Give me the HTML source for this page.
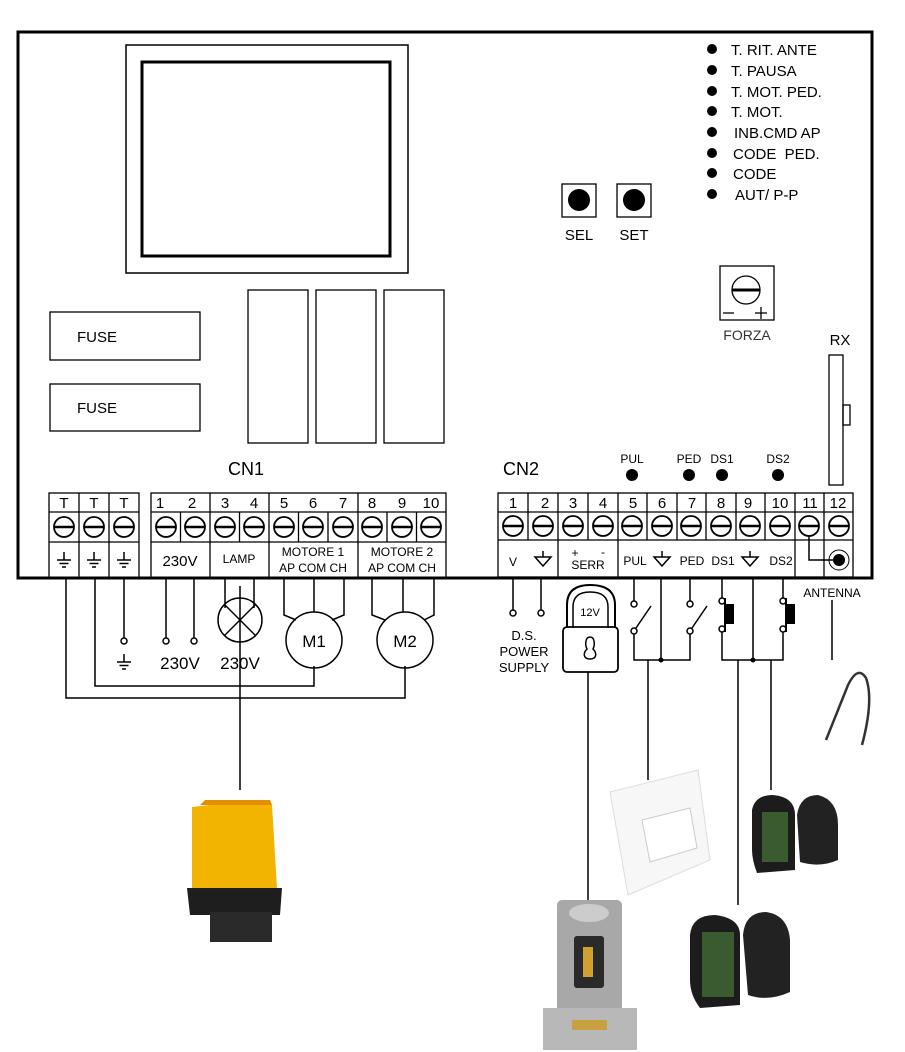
<!DOCTYPE html>
<html><head><meta charset="utf-8"><style>
html,body{margin:0;padding:0;background:#fff;}
svg{display:block;font-family:"Liberation Sans",sans-serif;}
</style></head><body>
<svg width="905" height="1052" viewBox="0 0 905 1052" xmlns="http://www.w3.org/2000/svg">
<defs>
<g id="scr"><circle r="10" fill="#fff" stroke="#000" stroke-width="1.8"/><line x1="-10" y1="0" x2="10" y2="0" stroke="#000" stroke-width="2.5"/></g>
<g id="gnd" stroke="#000" stroke-width="1.5"><line x1="0" y1="-8" x2="0" y2="0"/><line x1="-7" y1="0" x2="7" y2="0"/><line x1="-4.5" y1="3.5" x2="4.5" y2="3.5"/><line x1="-2" y1="7" x2="2" y2="7"/></g>
<g id="tri" fill="none" stroke="#000" stroke-width="1.5"><line x1="0" y1="-9" x2="0" y2="-3"/><path d="M-8,-3 H8 L0,6 Z"/></g>
</defs>
<g fill="none" stroke="#000">
<rect x="18" y="32" width="854" height="546" stroke-width="3"/>
<rect x="126" y="45" width="282" height="228" stroke-width="1.5"/>
<rect x="142" y="62" width="248" height="194" stroke-width="3"/>
<rect x="50" y="312" width="150" height="48" stroke-width="1.3"/>
<rect x="50" y="384" width="150" height="47" stroke-width="1.3"/>
<rect x="248" y="290" width="60" height="153" stroke-width="1.3"/>
<rect x="316" y="290" width="60" height="153" stroke-width="1.3"/>
<rect x="384" y="290" width="60" height="153" stroke-width="1.3"/>
<rect x="562" y="184" width="34" height="33" stroke-width="1.3"/>
<rect x="617" y="184" width="34" height="33" stroke-width="1.3"/>
<rect x="720" y="266" width="54" height="54" stroke-width="1.3"/>
<circle cx="746" cy="290" r="14" stroke-width="1.3"/>
<rect x="829" y="355" width="14" height="130" stroke-width="1.3"/>
<rect x="843" y="405" width="7" height="20" stroke-width="1.3"/>
</g>
<line x1="732" y1="290" x2="760" y2="290" stroke="#000" stroke-width="3"/>
<g stroke="#000" stroke-width="1.3"><line x1="723" y1="313" x2="734" y2="313"/><line x1="755" y1="313" x2="767" y2="313"/><line x1="761" y1="307" x2="761" y2="319"/></g>
<circle cx="579" cy="200" r="11"/><circle cx="634" cy="200" r="11"/>
<g font-size="15" fill="#000"><text x="579" y="240" text-anchor="middle">SEL</text><text x="634" y="240" text-anchor="middle">SET</text>
<text x="747" y="340" text-anchor="middle" font-size="14" fill="#333">FORZA</text>
<text x="840" y="345" text-anchor="middle">RX</text>
<text x="97" y="342" text-anchor="middle">FUSE</text><text x="97" y="413" text-anchor="middle">FUSE</text>
<text x="228" y="475" font-size="18">CN1</text><text x="503" y="475" font-size="18">CN2</text></g>
<g fill="#000">
<circle cx="712" cy="49" r="5"/><circle cx="712" cy="70" r="5"/><circle cx="712" cy="91" r="5"/><circle cx="712" cy="111" r="5"/><circle cx="712" cy="132" r="5"/><circle cx="712" cy="153" r="5"/><circle cx="712" cy="173" r="5"/><circle cx="712" cy="194" r="5"/>
</g>
<g font-size="15" fill="#000">
<text x="731" y="55">T. RIT. ANTE</text><text x="731" y="76">T. PAUSA</text><text x="731" y="97">T. MOT. PED.</text><text x="731" y="117">T. MOT.</text><text x="734" y="138">INB.CMD AP</text><text x="733" y="159">CODE&#160; PED.</text><text x="733" y="179">CODE</text><text x="735" y="200">AUT/ P-P</text>
</g>
<!-- CN1 blocks -->
<g fill="none" stroke="#000" stroke-width="1.3">
<rect x="49" y="493" width="90" height="85"/><line x1="49" y1="512" x2="139" y2="512"/><line x1="49" y1="542" x2="139" y2="542"/>
<line x1="79" y1="493" x2="79" y2="578"/><line x1="109" y1="493" x2="109" y2="578"/>
<rect x="151" y="493" width="295" height="85"/><line x1="151" y1="512" x2="446" y2="512"/><line x1="151" y1="542" x2="446" y2="542"/>
<line x1="180.5" y1="512" x2="180.5" y2="542"/><line x1="210" y1="493" x2="210" y2="578"/><line x1="239.5" y1="512" x2="239.5" y2="542"/><line x1="269" y1="493" x2="269" y2="578"/><line x1="298.5" y1="512" x2="298.5" y2="542"/><line x1="328" y1="512" x2="328" y2="542"/><line x1="358" y1="493" x2="358" y2="578"/><line x1="387" y1="512" x2="387" y2="542"/><line x1="416.5" y1="512" x2="416.5" y2="542"/>
</g>
<g font-size="15" fill="#000" text-anchor="middle">
<text x="64" y="508">T</text><text x="94" y="508">T</text><text x="124" y="508">T</text>
<text x="160" y="508">1</text><text x="192" y="508">2</text><text x="225" y="508">3</text><text x="254" y="508">4</text><text x="284" y="508">5</text><text x="313" y="508">6</text><text x="343" y="508">7</text><text x="372" y="508">8</text><text x="402" y="508">9</text><text x="431" y="508">10</text>
<text x="180" y="566">230V</text><text x="239" y="563" font-size="12">LAMP</text>
<text x="313" y="556" font-size="12">MOTORE 1</text><text x="313" y="572" font-size="12">AP COM CH</text>
<text x="402" y="556" font-size="12">MOTORE 2</text><text x="402" y="572" font-size="12">AP COM CH</text>
</g>
<g>
<use href="#scr" x="64" y="527"/><use href="#scr" x="94" y="527"/><use href="#scr" x="124" y="527"/>
<use href="#scr" x="166" y="527"/><use href="#scr" x="195" y="527"/><use href="#scr" x="225" y="527"/><use href="#scr" x="254" y="527"/><use href="#scr" x="284" y="527"/><use href="#scr" x="313" y="527"/><use href="#scr" x="343" y="527"/><use href="#scr" x="372" y="527"/><use href="#scr" x="402" y="527"/><use href="#scr" x="431" y="527"/>
<use href="#gnd" x="64" y="560"/><use href="#gnd" x="94" y="560"/><use href="#gnd" x="124" y="560"/>
</g>
<!-- CN1 wiring -->
<g fill="none" stroke="#000" stroke-width="1.5">
<polyline points="66,578 66,698 405,698 405,666"/>
<polyline points="95,578 95,686 314,686 314,666"/>
<line x1="124" y1="578" x2="124" y2="638"/><circle cx="124" cy="641" r="3"/>
<line x1="166" y1="578" x2="166" y2="638"/><circle cx="166" cy="641" r="3"/>
<line x1="194" y1="578" x2="194" y2="638"/><circle cx="194" cy="641" r="3"/>
<line x1="225" y1="578" x2="225" y2="608"/><line x1="254" y1="578" x2="254" y2="608"/>
<circle cx="240" cy="620" r="22"/><line x1="224" y1="604" x2="256" y2="636"/><line x1="256" y1="604" x2="224" y2="636"/>
<line x1="240" y1="586" x2="240" y2="790"/>
<circle cx="314" cy="640" r="28"/><polyline points="284,578 284,615 296,620"/><line x1="314" y1="578" x2="314" y2="612"/><polyline points="344,578 344,615 332,620"/>
<circle cx="405" cy="640" r="28"/><polyline points="372,578 372,615 385,620"/><line x1="403" y1="578" x2="403" y2="612"/><polyline points="434,578 434,615 424,620"/>
</g>
<use href="#gnd" x="124" y="662"/>
<g font-size="17" fill="#000" text-anchor="middle"><text x="180" y="669">230V</text><text x="240" y="669">230V</text><text x="314" y="647">M1</text><text x="405" y="647">M2</text></g>
<!-- CN2 block -->
<g fill="none" stroke="#000" stroke-width="1.3">
<rect x="498" y="493" width="355" height="84"/><line x1="498" y1="512" x2="853" y2="512"/><line x1="498" y1="540" x2="853" y2="540"/>
<line x1="528" y1="493" x2="528" y2="540"/><line x1="558" y1="493" x2="558" y2="577"/><line x1="588" y1="493" x2="588" y2="540"/><line x1="618" y1="493" x2="618" y2="577"/><line x1="647" y1="493" x2="647" y2="540"/><line x1="677" y1="493" x2="677" y2="540"/><line x1="706" y1="493" x2="706" y2="540"/><line x1="736" y1="493" x2="736" y2="540"/><line x1="765" y1="493" x2="765" y2="540"/><line x1="795" y1="493" x2="795" y2="577"/><line x1="824" y1="493" x2="824" y2="577"/>
</g>
<g font-size="15" fill="#000" text-anchor="middle">
<text x="513" y="508">1</text><text x="545" y="508">2</text><text x="573" y="508">3</text><text x="603" y="508">4</text><text x="633" y="508">5</text><text x="662" y="508">6</text><text x="692" y="508">7</text><text x="721" y="508">8</text><text x="748" y="508">9</text><text x="780" y="508">10</text><text x="810" y="508">11</text><text x="838" y="508">12</text>
<text x="513" y="566" font-size="12">V</text><text x="588" y="569" font-size="12">SERR</text><text x="575" y="557" font-size="12">+</text><text x="603" y="556" font-size="12">-</text>
<text x="635" y="565" font-size="12">PUL</text><text x="692" y="565" font-size="12">PED</text><text x="723" y="565" font-size="12">DS1</text><text x="781" y="565" font-size="12">DS2</text>
<text x="632" y="463" font-size="12">PUL</text><text x="689" y="463" font-size="12">PED</text><text x="722" y="463" font-size="12">DS1</text><text x="778" y="463" font-size="12">DS2</text>
<text x="832" y="597" font-size="12">ANTENNA</text>
<text x="524" y="640" font-size="13">D.S.</text><text x="524" y="656" font-size="13">POWER</text><text x="524" y="672" font-size="13">SUPPLY</text>
</g>
<g><use href="#scr" x="513" y="526"/><use href="#scr" x="543" y="526"/><use href="#scr" x="573" y="526"/><use href="#scr" x="603" y="526"/><use href="#scr" x="632" y="526"/><use href="#scr" x="662" y="526"/><use href="#scr" x="691" y="526"/><use href="#scr" x="721" y="526"/><use href="#scr" x="750" y="526"/><use href="#scr" x="780" y="526"/><use href="#scr" x="809" y="526"/><use href="#scr" x="839" y="526"/>
<use href="#tri" x="543" y="560"/><use href="#tri" x="662" y="560"/><use href="#tri" x="750" y="560"/></g>
<g fill="#000"><circle cx="632" cy="475" r="6"/><circle cx="689" cy="475" r="6"/><circle cx="722" cy="475" r="6"/><circle cx="778" cy="475" r="6"/>
<circle cx="839" cy="560" r="6"/><circle cx="661" cy="660" r="2.5"/><circle cx="753" cy="660" r="2.5"/></g>
<g fill="none" stroke="#000" stroke-width="1.5">
<polyline points="809,536 809,560 833,560"/><circle cx="839" cy="560" r="10" stroke-width="1"/>
<line x1="513" y1="577" x2="513" y2="610"/><circle cx="513" cy="613" r="3"/>
<line x1="541" y1="577" x2="541" y2="610"/><circle cx="541" cy="613" r="3"/>
<path d="M567,628 V605 Q567,585 590,585 Q615,585 615,605 V628" stroke-width="2"/>
<path d="M573,628 V607 Q573,592 590,592 Q608,592 608,607 V628" stroke-width="1.5"/>
<rect x="563" y="627" width="55" height="45" rx="4" stroke-width="1.8"/>
<path d="M590,637 c-5,0 -5,8 -3,12 c-4,4 -4,10 3,10 c7,0 7,-6 3,-10 c2,-4 2,-12 -3,-12 z"/>
<line x1="588" y1="672" x2="588" y2="900"/>
<line x1="634" y1="577" x2="634" y2="601"/><circle cx="634" cy="604" r="3"/><line x1="636" y1="628" x2="651" y2="606"/><circle cx="634" cy="631" r="3"/><polyline points="634,634 634,660 690,660 690,634"/>
<line x1="690" y1="577" x2="690" y2="601"/><circle cx="690" cy="604" r="3"/><line x1="692" y1="628" x2="707" y2="606"/><circle cx="690" cy="631" r="3"/>
<line x1="661" y1="577" x2="661" y2="660"/><line x1="648" y1="660" x2="648" y2="780"/>
<line x1="722" y1="577" x2="722" y2="598"/><circle cx="722" cy="601" r="3"/><circle cx="722" cy="629" r="3"/><line x1="725" y1="598" x2="725" y2="632" stroke-width="2"/><polyline points="722,632 722,660 783,660 783,632"/>
<line x1="783" y1="577" x2="783" y2="598"/><circle cx="783" cy="601" r="3"/><circle cx="783" cy="629" r="3"/><line x1="786" y1="598" x2="786" y2="632" stroke-width="2"/>
<line x1="753" y1="577" x2="753" y2="660"/>
<line x1="738" y1="660" x2="738" y2="905"/><line x1="771" y1="660" x2="771" y2="790"/>
<line x1="832" y1="600" x2="832" y2="660"/>
<path d="M826,740 L848,685 Q858,665 866,678 Q874,700 862,745" stroke="#333" stroke-width="2.5"/>
</g>
<rect x="726" y="604" width="8" height="20" fill="#000"/><rect x="787" y="604" width="8" height="20" fill="#000"/>
<text x="590" y="616" font-size="11" text-anchor="middle">12V</text>
<!-- photos -->
<path d="M192,807 L210,805 L272,805 L277,888 L192,888 Z" fill="#f2b400"/>
<path d="M200,805 L272,805 L270,800 L205,800 Z" fill="#e09000"/>
<path d="M187,888 L282,888 L280,915 L190,915 Z" fill="#1e1e1e"/>
<rect x="210" y="912" width="62" height="30" fill="#2a2a2a"/>
<path d="M610,792 L698,770 L710,860 L628,895 Z" fill="#f7f7f7" stroke="#ddd"/>
<path d="M642,820 L690,808 L697,848 L650,862 Z" fill="#fff" stroke="#ccc"/>
<rect x="557" y="900" width="65" height="118" rx="5" fill="#a8a8a8"/>
<ellipse cx="589" cy="913" rx="20" ry="9" fill="#ccc"/>
<rect x="574" y="936" width="30" height="52" rx="3" fill="#2a2a2a"/><rect x="583" y="947" width="10" height="30" fill="#d0a030"/>
<rect x="543" y="1008" width="94" height="42" fill="#b8b8b8"/><rect x="572" y="1020" width="35" height="10" fill="#c9a040"/>
<path d="M752,810 Q755,795 773,795 Q795,797 795,815 L795,870 L757,873 Q752,860 752,850 Z" fill="#1c1c1c"/>
<rect x="762" y="812" width="26" height="50" fill="#3a5a30"/>
<path d="M797,815 Q800,795 818,795 Q838,800 838,825 L838,860 Q820,868 800,862 Z" fill="#222"/>
<path d="M690,935 Q692,915 715,915 Q740,918 740,935 L740,1005 L700,1008 Q690,995 690,980 Z" fill="#1c1c1c"/>
<rect x="702" y="932" width="32" height="65" fill="#3a5a30"/>
<path d="M743,935 Q745,912 766,912 Q788,915 790,940 L790,992 Q768,1002 748,995 Z" fill="#222"/>
</svg>
</body></html>
